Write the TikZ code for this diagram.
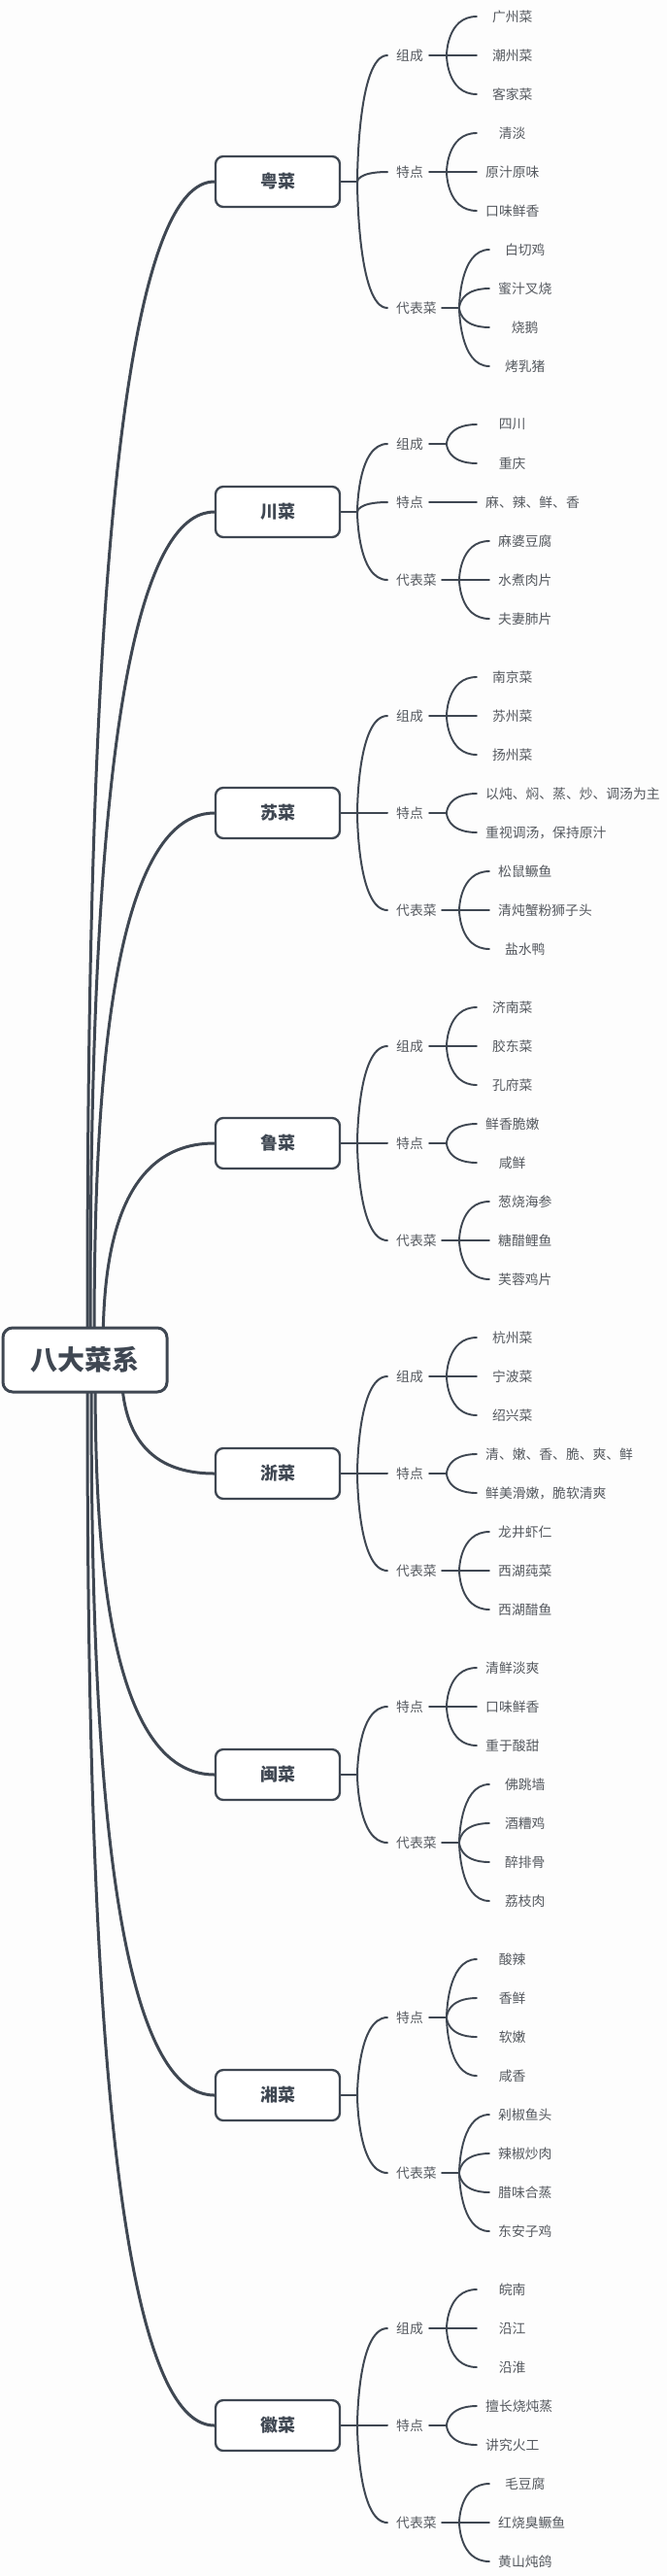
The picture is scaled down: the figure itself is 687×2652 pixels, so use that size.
\documentclass[tikz,border=0pt]{standalone}
\usepackage{fontspec}
\setmainfont{Noto Sans CJK SC}
\usetikzlibrary{calc}
\definecolor{ln}{HTML}{3F4752}
\definecolor{tx}{HTML}{55595F}
\definecolor{bg}{HTML}{FDFDFD}
\tikzset{
 rk/.style={draw=ln, line width=3pt, line cap=round},
 mk/.style={draw=ln, line width=2pt, line cap=round},
 lk/.style={draw=ln, line width=1.9pt, line cap=round},
 rootbox/.style={draw=ln, line width=3pt, rounded corners=10pt, fill=white, minimum width=169pt, minimum height=66pt, font=\fontsize{28}{30}\selectfont\bfseries, text=ln, inner sep=0pt},
 catbox/.style={draw=ln, line width=2.3pt, rounded corners=8pt, fill=white, minimum width=128pt, minimum height=52pt, font=\fontsize{18}{20}\selectfont\bfseries, text=ln, inner sep=0pt},
 lvtwo/.style={font=\fontsize{13.8}{15}\selectfont, text=tx, inner xsep=0pt, inner ysep=2pt, anchor=west},
 leaf/.style={font=\fontsize{13.8}{15}\selectfont, text=tx, inner xsep=9pt, inner ysep=2pt, minimum width=73pt, anchor=west},
}
\newcommand\mkcat[3]{%
  \node[catbox] (#1) at (286,#2) {#3};
  \coordinate (#1j) at (368,#2);
  \draw[mk] (#1.east) -- (#1j);
}
\newcommand\mkgrp[6]{%
  \node[lvtwo] (#1#2) at (408,#3) {#4};
  \draw[mk] (#1j) .. controls (#1j) and (#1j |- #1#2.west) .. ([xshift=-9pt]#1#2.west);
  \coordinate (#1#2s) at ({#5-49},#3);
  \coordinate (#1#2j) at ({#5-31},#3);
  \draw[lk] (#1#2s) -- (#1#2j);
  \foreach \ii/\yy/\lbl in {#6} {
    \node[leaf] (#1#2\ii) at (#5,\yy) {\lbl};
    \draw[lk] (#1#2j) .. controls (#1#2j) and (#1#2j |- #1#2\ii.west) .. (#1#2\ii.west);
  }
}
\newcommand\mkroot[2]{%
  \coordinate (#1r) at (#2,1400);
  \draw[rk] (#1r) .. controls ($(#1r)!0.3!(#1r |- #1.west)$) and (#1r |- #1.west) .. (#1.west);
}
\begin{document}
\begin{tikzpicture}[x=1pt,y=-1pt]
\fill[bg] (0,0) rectangle (687,2652);
\useasboundingbox (0,0) rectangle (687,2652);

\mkcat{yue}{187}{粤菜}
\mkgrp{yue}{A}{57}{组成}{491}{1/17/广州菜, 2/57/潮州菜, 3/97/客家菜}
\mkgrp{yue}{B}{177}{特点}{491}{1/137/清淡, 2/177/原汁原味, 3/217/口味鲜香}
\mkgrp{yue}{C}{317}{代表菜}{504}{1/257/白切鸡, 2/297/蜜汁叉烧, 3/337/烧鹅, 4/377/烤乳猪}

\mkcat{chuan}{527}{川菜}
\mkgrp{chuan}{A}{457}{组成}{491}{1/437/四川, 2/477/重庆}
\mkgrp{chuan}{B}{517}{特点}{491}{1/517/麻、辣、鲜、香}
\mkgrp{chuan}{C}{597}{代表菜}{504}{1/557/麻婆豆腐, 2/597/水煮肉片, 3/637/夫妻肺片}

\mkcat{su}{837}{苏菜}
\mkgrp{su}{A}{737}{组成}{491}{1/697/南京菜, 2/737/苏州菜, 3/777/扬州菜}
\mkgrp{su}{B}{837}{特点}{491}{1/817/以炖、焖、蒸、炒、调汤为主, 2/857/重视调汤，保持原汁}
\mkgrp{su}{C}{937}{代表菜}{504}{1/897/松鼠鳜鱼, 2/937/清炖蟹粉狮子头, 3/977/盐水鸭}

\mkcat{lu}{1177}{鲁菜}
\mkgrp{lu}{A}{1077}{组成}{491}{1/1037/济南菜, 2/1077/胶东菜, 3/1117/孔府菜}
\mkgrp{lu}{B}{1177}{特点}{491}{1/1157/鲜香脆嫩, 2/1197/咸鲜}
\mkgrp{lu}{C}{1277}{代表菜}{504}{1/1237/葱烧海参, 2/1277/糖醋鲤鱼, 3/1317/芙蓉鸡片}

\mkcat{zhe}{1517}{浙菜}
\mkgrp{zhe}{A}{1417}{组成}{491}{1/1377/杭州菜, 2/1417/宁波菜, 3/1457/绍兴菜}
\mkgrp{zhe}{B}{1517}{特点}{491}{1/1497/清、嫩、香、脆、爽、鲜, 2/1537/鲜美滑嫩，脆软清爽}
\mkgrp{zhe}{C}{1617}{代表菜}{504}{1/1577/龙井虾仁, 2/1617/西湖莼菜, 3/1657/西湖醋鱼}

\mkcat{min}{1827}{闽菜}
\mkgrp{min}{B}{1757}{特点}{491}{1/1717/清鲜淡爽, 2/1757/口味鲜香, 3/1797/重于酸甜}
\mkgrp{min}{C}{1897}{代表菜}{504}{1/1837/佛跳墙, 2/1877/酒糟鸡, 3/1917/醉排骨, 4/1957/荔枝肉}

\mkcat{xiang}{2157}{湘菜}
\mkgrp{xiang}{B}{2077}{特点}{491}{1/2017/酸辣, 2/2057/香鲜, 3/2097/软嫩, 4/2137/咸香}
\mkgrp{xiang}{C}{2237}{代表菜}{504}{1/2177/剁椒鱼头, 2/2217/辣椒炒肉, 3/2257/腊味合蒸, 4/2297/东安子鸡}

\mkcat{hui}{2497}{徽菜}
\mkgrp{hui}{A}{2397}{组成}{491}{1/2357/皖南, 2/2397/沿江, 3/2437/沿淮}
\mkgrp{hui}{B}{2497}{特点}{491}{1/2477/擅长烧炖蒸, 2/2517/讲究火工}
\mkgrp{hui}{C}{2597}{代表菜}{504}{1/2557/毛豆腐, 2/2597/红烧臭鳜鱼, 3/2637/黄山炖鸽}

\mkroot{yue}{90}
\mkroot{chuan}{93}
\mkroot{su}{97}
\mkroot{lu}{106}
\mkroot{zhe}{125}
\mkroot{min}{98}
\mkroot{xiang}{94}
\mkroot{hui}{90}

\node[rootbox] (root) at (87.5,1400) {八大菜系};
\end{tikzpicture}
\end{document}
